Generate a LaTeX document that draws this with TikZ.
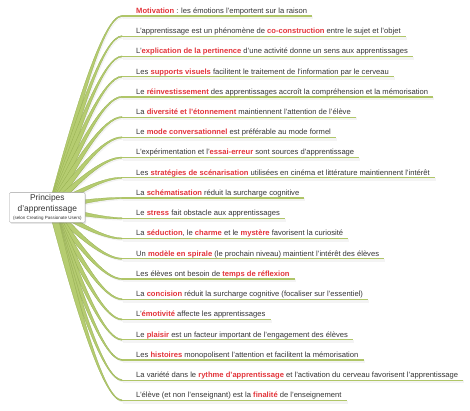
\documentclass[tikz,border=0pt]{standalone}
\usepackage{fontspec}
\setmainfont{Liberation Sans}
\usepackage{xcolor}
\usetikzlibrary{calc, positioning, shadows}
\definecolor{branchGreen}{RGB}{181,204,112}
\definecolor{branchEdge}{RGB}{146,172,76}
\definecolor{twigGreen}{RGB}{176,198,104}
\definecolor{keyRed}{RGB}{226,52,58}
\definecolor{darkText}{RGB}{51,51,51}
\newcommand{\kw}[1]{\textcolor{keyRed}{\textbf{#1}}}
\tikzset{
    rootbox/.style={
        rectangle,
        draw=gray!75,
        fill=white,
        rounded corners=1pt,
        align=center,
        minimum width=75.7pt,
        minimum height=29.6pt,
        inner sep=0pt,
        text=darkText,
        drop shadow={opacity=0.2, shadow xshift=1pt, shadow yshift=-1.5pt},
        font=\fontsize{8.4}{11}\selectfont
    },
    itemtext/.style={anchor=mid west, inner sep=0pt, text=darkText, font=\fontsize{7.6}{9}\selectfont},
    branch/.style={fill=branchGreen, draw=branchEdge, line width=0.25pt,
        drop shadow={opacity=0.1, shadow xshift=1.2pt, shadow yshift=-1.6pt}},
    twig/.style={draw=twigGreen, line width=1.2pt},
    twigshadow/.style={draw=black, opacity=0.045, line width=3pt}
}

\begin{document}
\begin{tikzpicture}[x=1pt,y=1pt]
    \useasboundingbox (0,0) rectangle (470,411);
    \coordinate (hub) at (52,203.5);

    \foreach \i/\txt in {
        1/{\kw{Motivation} : les émotions l'emportent sur la raison},
        2/{L'apprentissage est un phénomène de \kw{co-construction} entre le sujet et l'objet},
        3/{L'\kw{explication de la pertinence} d'une activité donne un sens aux apprentissages},
        4/{Les \kw{supports visuels} facilitent le traitement de l'information par le cerveau},
        5/{Le \kw{réinvestissement} des apprentissages accroît la compréhension et la mémorisation},
        6/{La \kw{diversité et l'étonnement} maintiennent l'attention de l'élève},
        7/{Le \kw{mode conversationnel} est préférable au mode formel},
        8/{L'expérimentation et l'\kw{essai-erreur} sont sources d'apprentissage},
        9/{Les \kw{stratégies de scénarisation} utilisées en cinéma et littérature maintiennent l'intérêt},
        10/{La \kw{schématisation} réduit la surcharge cognitive},
        11/{Le \kw{stress} fait obstacle aux apprentissages},
        12/{La \kw{séduction}, le \kw{charme} et le \kw{mystère} favorisent la curiosité},
        13/{Un \kw{modèle en spirale} (le prochain niveau) maintient l'intérêt des élèves},
        14/{Les élèves ont besoin de \kw{temps de réflexion}},
        15/{La \kw{concision} réduit la surcharge cognitive (focaliser sur l'essentiel)},
        16/{L'\kw{émotivité} affecte les apprentissages},
        17/{Le \kw{plaisir} est un facteur important de l'engagement des élèves},
        18/{Les \kw{histoires} monopolisent l'attention et facilitent la mémorisation},
        19/{La variété dans le \kw{rythme d'apprentissage} et l'activation du cerveau favorisent l'apprentissage},
        20/{L'élève (et non l'enseignant) est la \kw{finalité} de l'enseignement}} {
        \pgfmathsetmacro{\yc}{411-10.7-20.23*(\i-1)}
        \node[itemtext] (t\i) at (136,\yc) {\txt};
        \coordinate (e\i) at (122,\yc-5.3);
    }

    % tapered branches from the hub, then the underline
    \foreach \i in {1,...,20} {
        \coordinate (c1) at ($(hub)!0.55!([xshift=-22pt]e\i)$);
        \coordinate (c2) at ([xshift=-18pt]e\i);
        \draw[branch] ($(hub)!3.6pt!90:(c1)$) .. controls ($(c1)!2pt!90:(c2)$) and ([yshift=0.9pt]c2) .. ([yshift=0.6pt]e\i)
            -- ([yshift=-0.6pt]e\i) .. controls ([yshift=-0.9pt]c2) and ($(c1)!2pt!-90:(c2)$) .. ($(hub)!3.6pt!-90:(c1)$) -- cycle;
        \draw[twigshadow] ([shift={(1,-1.8)}]e\i) -- ([shift={(6,-1.8)}]e\i -| t\i.east);
        \draw[twig] (e\i) -- ([xshift=5pt]e\i -| t\i.east);
    }

    \node[rootbox] (root) at (47.3,203.5) {Principes\\d'apprentissage\\[-3.5pt]{\fontsize{4.5}{5}\selectfont (selon Creating Passionate Users)}};
\end{tikzpicture}
\end{document}
